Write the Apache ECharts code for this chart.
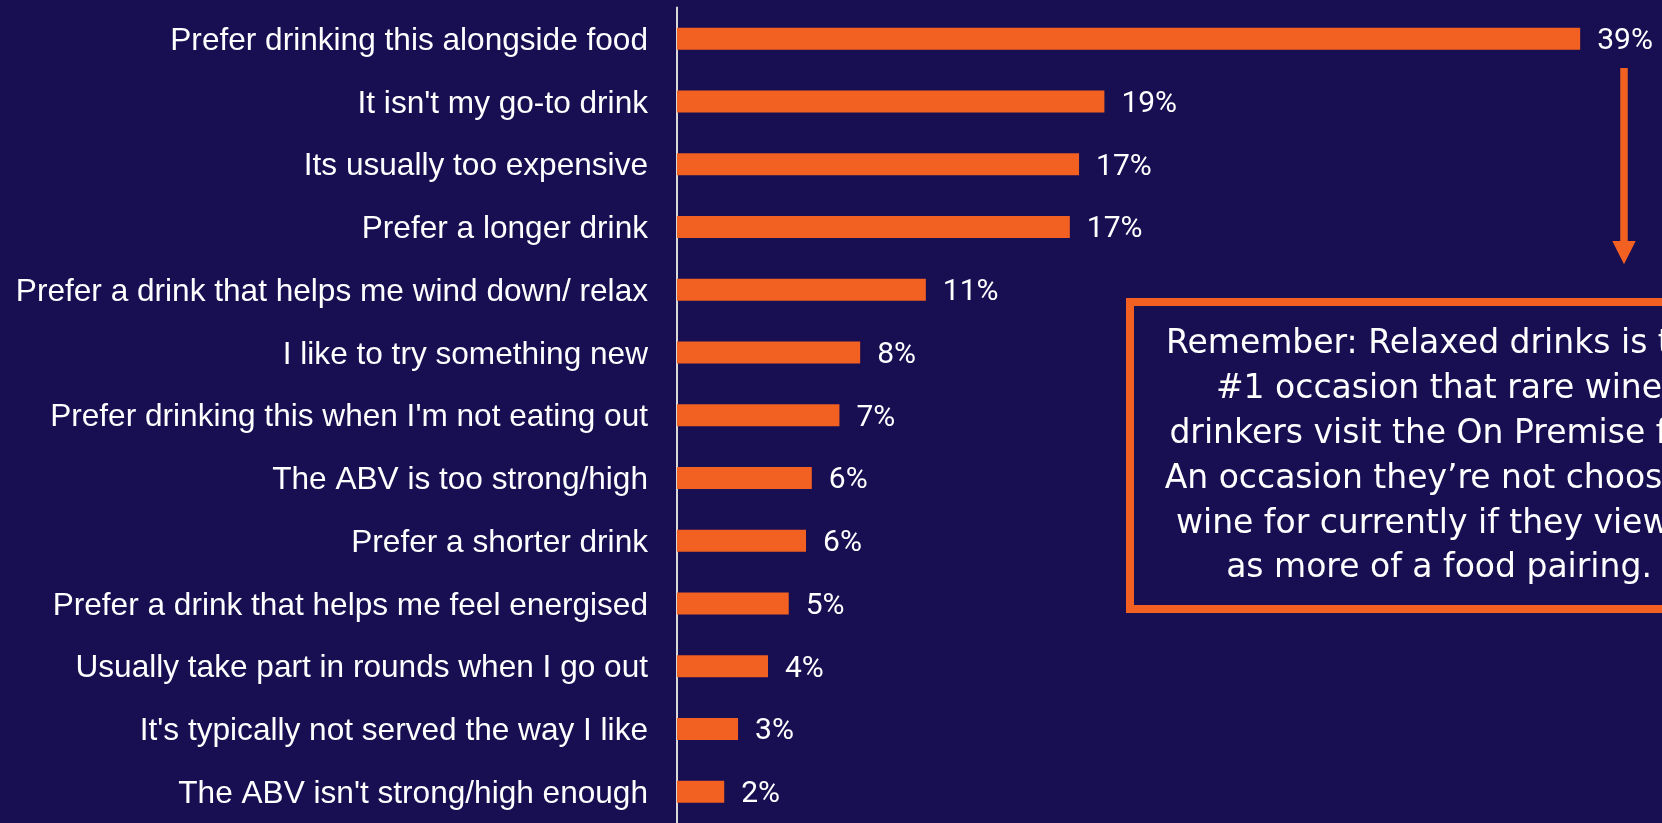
<!DOCTYPE html>
<html><head><meta charset="utf-8">
<script src="https://cdn.jsdelivr.net/npm/echarts@6/dist/echarts.min.js"></script>
<style>html,body{margin:0;padding:0;background:#180E52;} #c{width:1662px;height:823px;}</style>
</head><body><div id="c"></div>
<script>
const categories = [
  "Prefer drinking this alongside food",
  "It isn't my go-to drink",
  "Its usually too expensive",
  "Prefer a longer drink",
  "Prefer a drink that helps me wind down/ relax",
  "I like to try something new",
  "Prefer drinking this when I'm not eating out",
  "The ABV is too strong/high",
  "Prefer a shorter drink",
  "Prefer a drink that helps me feel energised",
  "Usually take part in rounds when I go out",
  "It's typically not served the way I like",
  "The ABV isn't strong/high enough"
];
const values = [39.2, 18.55, 17.45, 17.05, 10.8, 7.95, 7.05, 5.85, 5.6, 4.85, 3.95, 2.65, 2.05];
const noteLines = [
  "Remember: Relaxed drinks is the",
  "#1 occasion that rare wine",
  "drinkers visit the On Premise for.",
  "An occasion they\u2019re not choosing",
  "wine for currently if they view it",
  "as more of a food pairing."
];
const ORANGE = '#F26122';
const chart = echarts.init(document.getElementById('c'), null, {renderer: 'canvas'});
chart.setOption({
  backgroundColor: '#180E52',
  animation: false,
  grid: {left: 677, top: 7.4, width: 921.6, height: 821.2, containLabel: false},
  xAxis: {type: 'value', min: 0, max: 40, show: false},
  yAxis: {
    type: 'category', inverse: true, data: categories,
    axisLine: {show: true, lineStyle: {color: '#D9D9D9', width: 2}},
    axisTick: {show: false},
    splitLine: {show: false},
    axisLabel: {
      margin: 29,
      formatter: v => '{l|' + v + '}',
      rich: {l: {color: '#FFFFFF', fontFamily: 'Liberation Sans', fontSize: 31.6, padding: [5, 0, 0, 0]}}
    }
  },
  series: [{
    type: 'bar', data: values, barWidth: 22,
    itemStyle: {color: ORANGE},
    label: {
      show: true, position: 'right', distance: 17, color: '#FFFFFF',
      fontFamily: 'Roboto', fontSize: 30, offset: [0, 3],
      formatter: p => Math.round(p.value) + '%'
    }
  }],
  graphic: [
    {type: 'rect', shape: {x: 1130, y: 302, width: 620, height: 307},
     style: {fill: 'none', stroke: ORANGE, lineWidth: 8}},
    {type: 'text', style: {text: noteLines.join('\n'), x: 1439, y: 322.5, textAlign: 'center',
      textVerticalAlign: 'top', font: '33px "DejaVu Sans"', fill: '#FFFFFF', lineHeight: 44.8}},
    {type: 'line', shape: {x1: 1624, y1: 68, x2: 1624, y2: 242},
     style: {stroke: ORANGE, lineWidth: 7.5}},
    {type: 'polygon', shape: {points: [[1612.3, 241], [1635.7, 241], [1624, 264.3]]},
     style: {fill: ORANGE}}
  ]
});
</script></body></html>
